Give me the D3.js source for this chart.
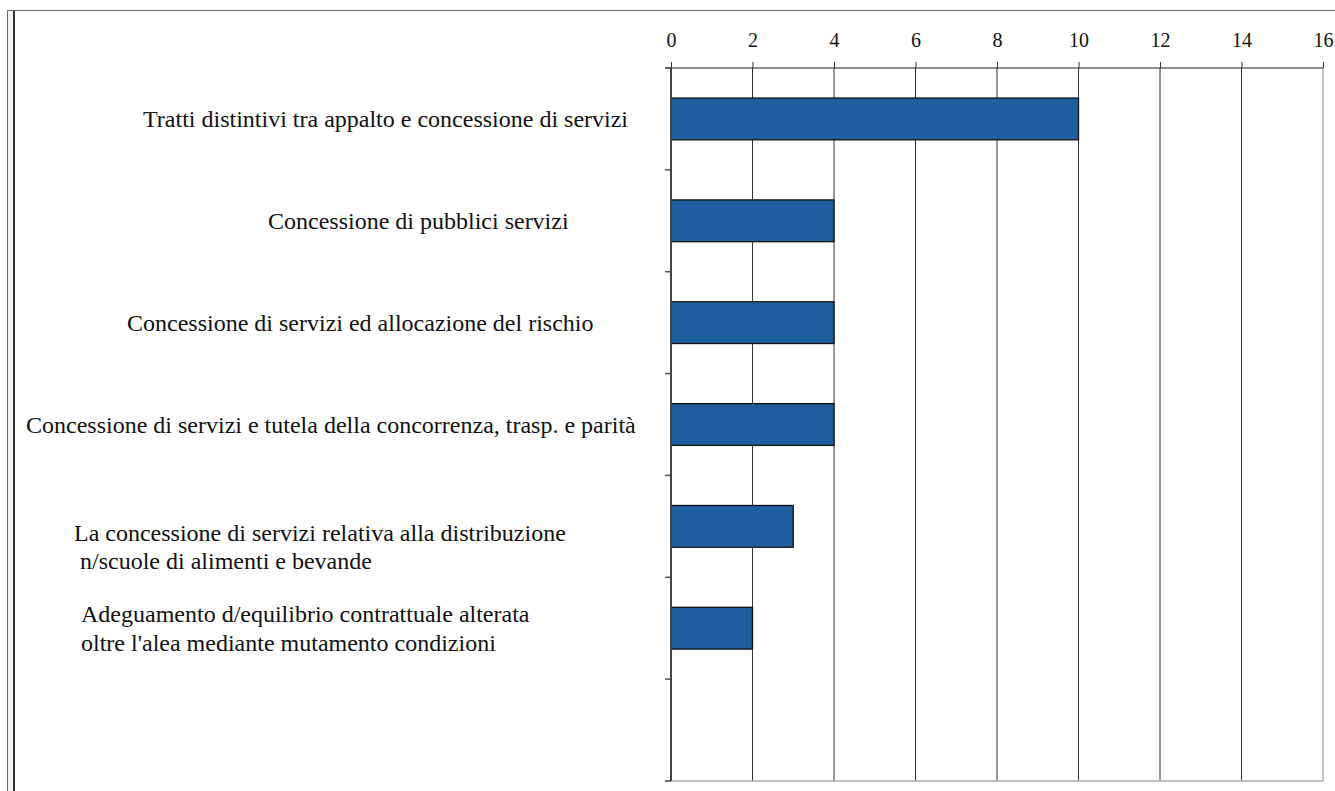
<!DOCTYPE html>
<html>
<head>
<meta charset="utf-8">
<script src="https://cdn.jsdelivr.net/npm/d3@7/dist/d3.min.js"></script>
<style>
  html, body { margin: 0; padding: 0; background: #fff; overflow: hidden; }
</style>
</head>
<body>
<div id="chart"></div>
<script>
/* ---------------- dati ---------------- */
var categories = [
  ['Tratti distintivi tra appalto e concessione di servizi'],
  ['Concessione di pubblici servizi'],
  ['Concessione di servizi ed allocazione del rischio'],
  ['Concessione di servizi e tutela della concorrenza, trasp. e parità'],
  ['La concessione di servizi relativa alla distribuzione', ' n/scuole di alimenti e bevande'],
  ['Adeguamento d/equilibrio contrattuale alterata', 'oltre l\'alea mediante mutamento condizioni'],
  ['']
];
var values = [10, 4, 4, 4, 3, 2, null];
var tickValues = [0, 2, 4, 6, 8, 10, 12, 14, 16];

/* ---------------- layout ---------------- */
var width = 1335, height = 791;
var serif = '"Liberation Serif", "Times New Roman", Times, serif';
var plot = { left: 671, right: 1323, top: 68, bottom: 781 };
// posizione (x iniziale, spostamento verticale) delle etichette come nell'originale
var labelX = [143, 268, 127, 26, 74, 81, 0];
var labelDy = [0, 0, 0, 0, 20, 0, 0];
var lineH = 28.3;

var svg = d3.select('#chart').append('svg')
    .attr('width', width)
    .attr('height', height)
    .style('display', 'block');

// cornice
svg.append('rect')
    .attr('x', 7.5).attr('y', 10.5)
    .attr('width', 1400).attr('height', 900)
    .attr('fill', '#f2f2f2')
    .attr('stroke', '#666');
svg.append('rect')
    .attr('x', 14).attr('y', 11)
    .attr('width', 1400).attr('height', 900)
    .attr('fill', '#fff');
svg.append('line')
    .attr('x1', 14).attr('x2', 14)
    .attr('y1', 11).attr('y2', height)
    .attr('stroke', '#333').attr('stroke-width', 2);

var x = d3.scaleLinear().domain([0, 16]).range([plot.left, plot.right]);
var y = d3.scaleBand()
    .domain(d3.range(categories.length))
    .range([plot.top, plot.bottom])
    .padding(0);

/* griglia verticale */
svg.append('g').selectAll('line')
    .data(tickValues.filter(function(d) { return d > 0; }))
    .enter().append('line')
    .attr('x1', function(d) { return x(d); })
    .attr('x2', function(d) { return x(d); })
    .attr('y1', plot.top)
    .attr('y2', plot.bottom)
    .attr('stroke', function(d) { return d === 16 ? '#888' : '#333'; })
    .attr('stroke-width', 1);

/* asse in alto */
var xAxis = d3.axisTop(x)
    .tickValues(tickValues)
    .tickSize(6)
    .tickPadding(15)
    .tickFormat(d3.format('d'));
var gx = svg.append('g')
    .attr('transform', 'translate(0,' + plot.top + ')')
    .call(xAxis);
gx.select('.domain').remove();
gx.selectAll('.tick line').attr('stroke', '#333');
gx.selectAll('.tick text')
    .attr('fill', '#111')
    .style('font-family', serif)
    .style('font-size', '20px');
svg.append('line')
    .attr('x1', plot.left - 6).attr('x2', plot.right)
    .attr('y1', plot.top).attr('y2', plot.top)
    .attr('stroke', '#222').attr('stroke-width', 1.2);

/* linea in basso */
svg.append('line')
    .attr('x1', plot.left - 6).attr('x2', plot.right)
    .attr('y1', plot.bottom).attr('y2', plot.bottom)
    .attr('stroke', '#aaa').attr('stroke-width', 1.5);

/* barre */
svg.append('g').selectAll('rect')
    .data(values.map(function(v, i) { return { i: i, v: v }; }).filter(function(d) { return d.v != null; }))
    .enter().append('rect')
    .attr('x', x(0))
    .attr('y', function(d) { return y(d.i) + y.bandwidth() * 0.295; })
    .attr('width', function(d) { return x(d.v) - x(0); })
    .attr('height', y.bandwidth() * 0.41)
    .attr('fill', '#1f5f9f')
    .attr('stroke', '#111')
    .attr('stroke-width', 1.3);

/* asse sinistro */
var bounds = d3.range(categories.length + 1).map(function(i) { return plot.top + i * y.step(); });
svg.append('g').selectAll('line')
    .data(bounds)
    .enter().append('line')
    .attr('x1', plot.left - 6).attr('x2', plot.left)
    .attr('y1', function(d) { return d; })
    .attr('y2', function(d) { return d; })
    .attr('stroke', '#555').attr('stroke-width', 1.5);
svg.append('line')
    .attr('x1', plot.left).attr('x2', plot.left)
    .attr('y1', plot.top).attr('y2', plot.bottom)
    .attr('stroke', '#444').attr('stroke-width', 2);

/* etichette categorie */
var labels = svg.append('g').selectAll('text')
    .data(categories)
    .enter().append('text')
    .attr('xml:space', 'preserve')
    .attr('fill', '#111')
    .style('font-family', serif)
    .style('font-size', '24px')
    .style('white-space', 'pre')
    .attr('y', function(d, i) {
      var c = y(i) + y.bandwidth() / 2 + 8.3 + labelDy[i];
      return c - (d.length - 1) * lineH / 2;
    });
labels.selectAll('tspan')
    .data(function(d, i) { return d.map(function(t) { return { t: t, i: i }; }); })
    .enter().append('tspan')
    .attr('x', function(d) { return labelX[d.i]; })
    .attr('dy', function(d, j) { return j === 0 ? 0 : lineH; })
    .text(function(d) { return d.t; });
</script>
</body>
</html>
